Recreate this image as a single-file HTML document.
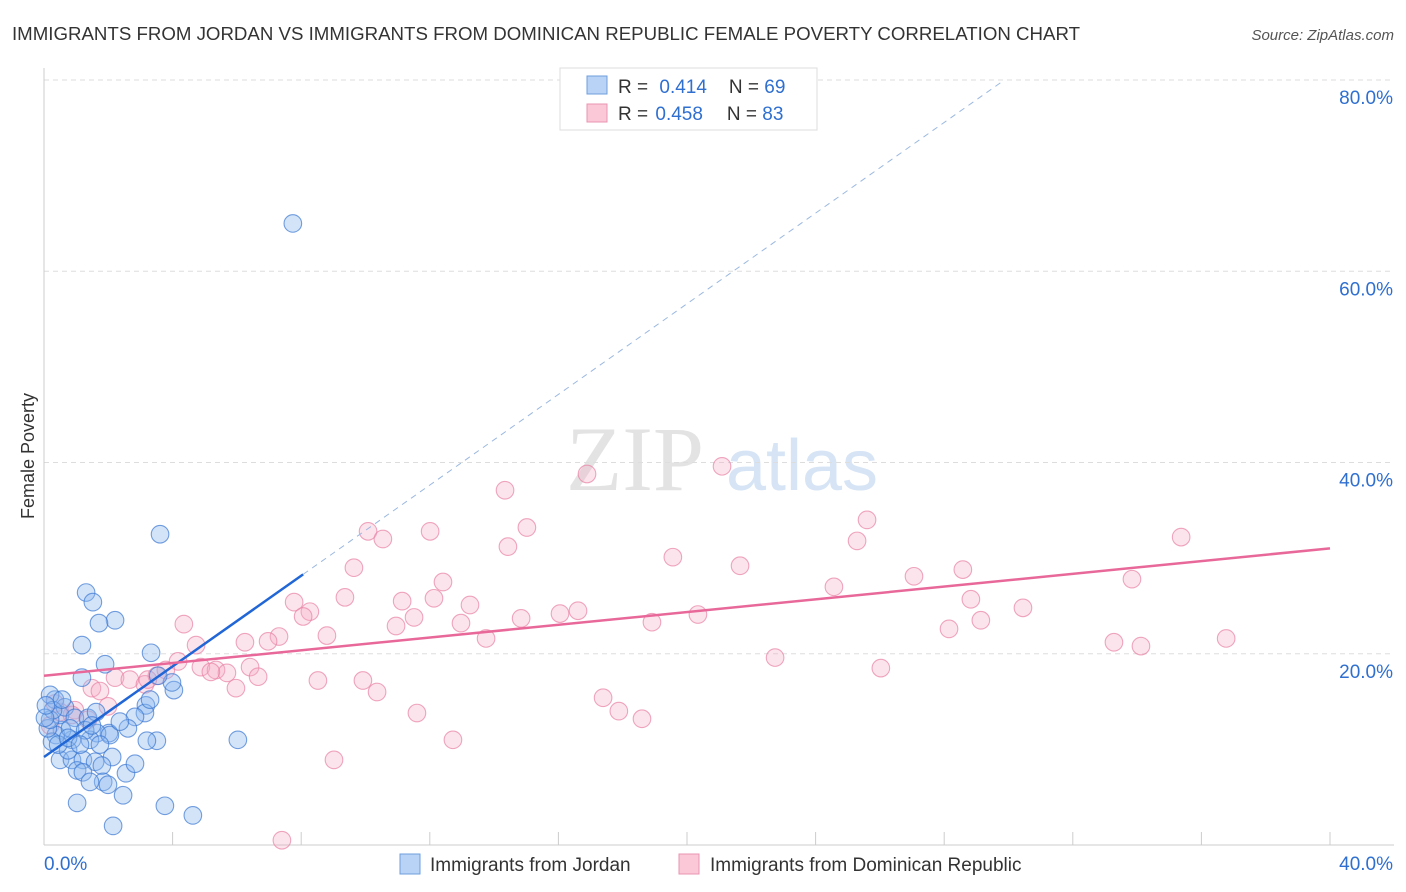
<!DOCTYPE html>
<html><head><meta charset="utf-8">
<style>
body{margin:0;background:#fff;font-family:"Liberation Sans",sans-serif;}
#wrap{position:relative;width:1406px;height:892px;overflow:hidden;}
</style></head>
<body>
<div id="wrap">
<svg id="svg" width="1406" height="892" xmlns="http://www.w3.org/2000/svg">
<text x="12" y="40" font-size="18" fill="#333" textLength="1068" lengthAdjust="spacingAndGlyphs">IMMIGRANTS FROM JORDAN VS IMMIGRANTS FROM DOMINICAN REPUBLIC FEMALE POVERTY CORRELATION CHART</text>
<text x="1394" y="40" font-size="15" fill="#555" font-style="italic" text-anchor="end">Source: ZipAtlas.com</text>
<text x="34" y="456" font-size="18" fill="#333" text-anchor="middle" transform="rotate(-90 34 456)">Female Poverty</text>
<g>
<text x="635" y="490" font-size="92" fill="#ddd" font-family="Liberation Serif,serif" text-anchor="middle" opacity="0.8">ZIP</text>
<text x="802" y="490" font-size="72" fill="#d6e4f5" text-anchor="middle">atlas</text>
</g>
<g id="grid"></g>
<g id="axes"></g>
<g id="pts"></g>
<g id="lines"></g>
<g>
<rect x="560" y="68" width="257" height="62" fill="#fff" stroke="#ddd"/>
<rect x="587" y="76" width="20" height="18" fill="#b8d3f5" stroke="#6f9fdc"/>
<rect x="587" y="104" width="20" height="18" fill="#fac8d7" stroke="#eb94b2"/>
<text x="618" y="93" font-size="19" fill="#333">R = <tspan fill="#2f6fd0" dx="6">0.414</tspan><tspan dx="22" fill="#333">N = </tspan><tspan fill="#2f6fd0">69</tspan></text>
<text x="618" y="120" font-size="19" fill="#333">R = <tspan fill="#2f6fd0" dx="2">0.458</tspan><tspan dx="24" fill="#333">N = </tspan><tspan fill="#2f6fd0">83</tspan></text>
</g>
<g>
<rect x="400" y="854" width="20" height="20" fill="#b8d3f5" stroke="#6f9fdc"/>
<text x="430" y="871" font-size="19" fill="#333">Immigrants from Jordan</text>
<rect x="679" y="854" width="20" height="20" fill="#fac8d7" stroke="#eb94b2"/>
<text x="710" y="871" font-size="19" fill="#333">Immigrants from Dominican Republic</text>
</g>
</svg>
</div>
<script>
const yTicks=[20,40,60,80];
const yTickLabels=["20.0%","40.0%","60.0%","80.0%"];
const xTickLabels=["0.0%","40.0%"];
const jordanX=[7.74,3.61,1.31,1.52,2.21,1.71,1.18,3.33,1.90,1.18,4.04,3.98,3.17,3.14,2.83,3.55,2.61,2.02,1.65,1.43,0.87,0.56,0.37,0.25,0.50,0.87,1.21,0.75,1.59,2.12,1.80,1.03,1.21,2.55,2.83,1.84,1.43,1.99,2.46,1.03,3.76,4.63,2.15,6.03,3.51,3.20,0.34,0.19,0.50,0.65,0.96,1.37,0.12,0.19,0.81,1.62,2.05,3.30,0.44,2.36,0.28,0.56,1.28,1.74,0.75,1.12,0.03,0.06,1.49];
const jordanY=[65.0,32.5,26.4,25.4,23.5,23.2,20.9,20.1,18.9,17.5,16.2,17.0,14.6,13.8,13.4,17.7,12.2,11.7,11.7,11.0,11.0,12.0,11.5,10.8,8.9,8.9,8.9,9.9,8.7,9.2,8.3,7.8,7.6,7.5,8.5,6.6,6.6,6.3,5.2,4.4,4.1,3.1,2.0,11.0,10.9,10.9,15.2,15.7,13.6,14.4,13.3,13.3,12.2,13.1,12.2,13.9,11.5,15.2,10.5,12.9,14.1,15.2,12.0,10.5,11.2,10.5,13.3,14.6,12.5];
const domX=[21.09,16.89,14.34,15.02,12.01,10.08,10.54,14.43,25.60,25.29,35.37,19.56,21.65,9.64,12.41,27.06,28.58,33.84,24.57,9.36,11.14,12.13,13.25,7.78,8.27,8.06,11.51,16.61,16.05,14.84,12.97,28.83,30.45,4.35,29.14,28.15,20.34,18.91,10.95,8.80,7.31,6.97,6.25,13.75,33.28,34.12,36.77,4.73,4.17,4.88,5.35,5.69,5.19,6.41,6.66,2.21,2.67,3.14,3.51,3.79,3.23,22.74,26.03,8.52,9.92,5.97,10.36,1.49,1.74,17.39,17.88,18.60,11.60,12.72,9.02,7.40,1.99,0.96,0.50,0.87,0.34,1.37,0.19];
const domY=[39.6,38.8,37.1,33.2,32.8,32.8,32.0,31.2,34.0,31.8,32.2,30.1,29.2,29.0,27.5,28.1,28.8,27.8,27.0,25.9,25.5,25.8,25.1,25.4,24.4,23.9,23.8,24.5,24.2,23.7,23.2,25.7,24.8,23.1,23.5,22.6,24.1,23.3,22.9,21.9,21.8,21.3,21.2,21.6,21.2,20.8,21.6,20.9,19.2,18.6,18.3,18.0,18.1,18.6,17.6,17.5,17.3,16.8,17.7,18.3,17.3,19.6,18.5,17.2,17.2,16.4,16.0,16.4,16.1,15.4,14.0,13.2,13.8,11.0,8.9,0.5,14.5,14.1,13.9,13.6,14.8,13.1,12.5];
const jordanTrend=[9.2,2.37];   // intercept, slope
const domTrend=[17.7,0.333];
const NS="http://www.w3.org/2000/svg";
const X=v=>44+v*32.15, Y=v=>845-v*9.5625;
function mk(t,a,p){const e=document.createElementNS(NS,t);for(const k in a)e.setAttribute(k,a[k]);p.appendChild(e);return e;}
const grid=document.getElementById('grid'),axes=document.getElementById('axes'),pts=document.getElementById('pts'),lines=document.getElementById('lines');
yTicks.forEach((t,i)=>{
 const l=mk('line',{x1:44,x2:1394,y1:Y(t),y2:Y(t),stroke:'#ddd','stroke-dasharray':'5,4'},grid);
 
 
 const tx=mk('text',{x:1393,y:Y(t)+24,'font-size':19,fill:'#2f6fd0','text-anchor':'end'},axes);
 tx.textContent=yTickLabels[i];
 
 
});
mk('line',{x1:44,x2:44,y1:68,y2:845,stroke:'#ccc'},axes);
mk('line',{x1:44,x2:1394,y1:845,y2:845,stroke:'#ccc'},axes);
for(let i=0;i<=10;i++){const tk=mk('line',{x1:X(i*4),x2:X(i*4),y1:832,y2:845,stroke:'#ccc'},axes);
 
 }
[[0,44,'start'],[40,1393,'end']].forEach((d,i)=>{const tx=mk('text',{x:d[1],y:870,'font-size':19,fill:'#2f6fd0','text-anchor':d[2]},axes);tx.textContent=xTickLabels[i];
 
 });
function scatter(xs,ys,fill,stroke,name){xs.forEach((x,i)=>{const c=mk('circle',{cx:X(x),cy:Y(ys[i]),r:8.8,fill:fill,stroke:stroke,'stroke-width':1.1},pts);
 
 });}
scatter(domX,domY,'rgba(246,170,196,0.32)','rgba(232,130,165,0.7)','point-dominican');
scatter(jordanX,jordanY,'rgba(140,185,240,0.38)','rgba(60,120,210,0.7)','point-jordan');
let l;
l=mk('line',{x1:X(8.06),y1:Y(jordanTrend[0]+jordanTrend[1]*8.06),x2:X(29.8),y2:Y(jordanTrend[0]+jordanTrend[1]*29.8),stroke:'#9bb8e0','stroke-width':1,'stroke-dasharray':'6,5'},lines);


l=mk('line',{x1:X(0),y1:Y(jordanTrend[0]),x2:X(8.06),y2:Y(jordanTrend[0]+jordanTrend[1]*8.06),stroke:'#2166d6','stroke-width':2.5},lines);


l=mk('line',{x1:X(0),y1:Y(domTrend[0]),x2:X(40),y2:Y(domTrend[0]+domTrend[1]*40),stroke:'#e8689a','stroke-width':2.5},lines);


</script>
</body></html>
